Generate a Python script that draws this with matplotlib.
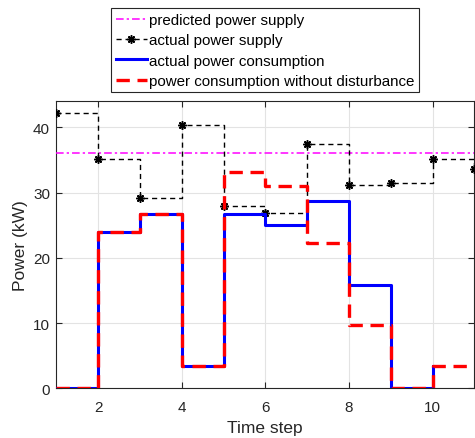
import matplotlib
matplotlib.use("Agg")
import matplotlib.pyplot as plt
import numpy as np

plt.rcParams['font.family'] = ['Liberation Sans', 'DejaVu Sans']

# Data
steps_supply = [1, 2, 3, 4, 5, 6, 7, 8, 9, 10, 11]
actual_supply = [42.2, 35.1, 29.1, 40.4, 28.0, 26.8, 37.4, 31.2, 31.4, 35.1, 33.6]
predicted_supply = 36.0
steps_cons = [1, 2, 3, 4, 5, 6, 7, 8, 9, 10]
actual_consumption = [0, 23.9, 26.75, 3.4, 26.75, 25.0, 28.7, 15.8, 0, 3.4]
steps_nodist = [1, 2, 3, 4, 5, 6, 7, 8, 9, 10, 11]
consumption_no_disturbance = [0, 23.9, 26.75, 3.4, 33.2, 30.95, 22.25, 9.7, 0, 3.4, 3.4]
xticks = [2, 4, 6, 8, 10]
yticks = [0, 10, 20, 30, 40]

dark = '#262626'
fig = plt.figure(figsize=(4.75, 4.39), dpi=100)
ax = fig.add_axes([56.3/475, 1-389.3/439, (474.3-56.3)/475, (389.3-102.3)/439])

h_pred = ax.axhline(predicted_supply, color='#ff00ff', lw=1.1, dashes=(5, 2, 1.5, 2),
                    label='predicted power supply', zorder=3)
h_sup, = ax.plot(steps_supply, actual_supply, drawstyle='steps-post', color='black',
                 lw=1.0, dashes=(3.7, 2.8), marker=(8, 2, 0), markersize=6,
                 markeredgewidth=1.1,
                 label='actual power supply', zorder=4)
h_cons, = ax.plot(steps_cons, actual_consumption, drawstyle='steps-post', color='#0000ff',
                  lw=2.2, label='actual power consumption', zorder=5)
h_nd, = ax.plot(steps_nodist, consumption_no_disturbance, drawstyle='steps-post',
                color='#ff0000', lw=2.4, dashes=(4, 2.3),
                label='power consumption without disturbance', zorder=6)

ax.set_xlim(1, 11)
ax.set_ylim(0, 44)
ax.set_xticks(xticks)
ax.set_yticks(yticks)
ax.grid(True, color='#e3e3e3', lw=0.8)
ax.set_axisbelow(True)
ax.tick_params(direction='in', top=True, right=True, length=4, width=0.8,
               labelsize=11, colors=dark)
ax.tick_params(axis='x', pad=8.5)
ax.tick_params(axis='y', pad=4.5)
for s in ax.spines.values():
    s.set_color(dark)
    s.set_linewidth(0.8)

ax.set_xlabel('Time step', fontsize=12.5, color=dark, labelpad=4.5)
ax.set_ylabel('Power (kW)', fontsize=12.5, color=dark, labelpad=3.5)

leg = fig.legend(handles=[h_pred, h_sup, h_cons, h_nd], loc='upper left',
                 bbox_to_anchor=(111/475, 1-9.3/439), fontsize=10.9,
                 frameon=True, fancybox=False, framealpha=1, edgecolor=dark,
                 borderpad=0.3, handlelength=2.1, handletextpad=0.1,
                 labelspacing=0.42, borderaxespad=0)
leg.get_frame().set_linewidth(0.8)

fig.savefig('out.png', dpi=100)
